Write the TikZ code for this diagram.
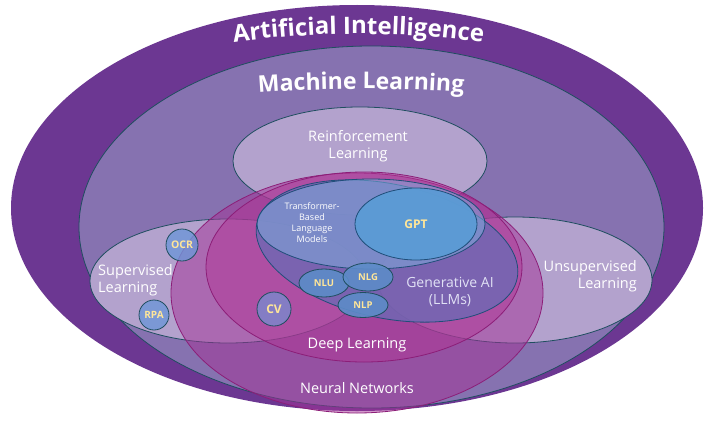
\documentclass[tikz,border=0pt]{standalone}
\usepackage{fontspec}
\setmainfont{Open Sans}
\usetikzlibrary{decorations.text}
\definecolor{aiC}{RGB}{108,55,146}
\definecolor{mlC}{RGB}{134,114,176}
\definecolor{lightC}{RGB}{179,162,205}
\definecolor{lineC}{RGB}{31,78,95}
\definecolor{nnC}{RGB}{165,50,150}
\definecolor{nnLine}{RGB}{140,30,120}
\definecolor{dlC}{RGB}{178,55,150}
\definecolor{genC}{RGB}{110,105,180}
\definecolor{genLine}{RGB}{31,78,121}
\definecolor{tfC}{RGB}{126,180,225}
\definecolor{gptC}{RGB}{91,155,213}
\definecolor{smallC}{RGB}{93,140,200}
\definecolor{circC}{RGB}{110,150,215}
\definecolor{yel}{RGB}{255,230,153}
\definecolor{genText}{RGB}{225,225,245}
\begin{document}
\begin{tikzpicture}[x=1pt,y=-1pt,
  region/.style={fill=#1, draw=lineC, line width=0.8pt},
  magregion/.style={fill=#1, draw=nnLine, line width=0.8pt},
  lbl/.style={text=white, font=\fontsize{14.5}{17}\selectfont, align=center, inner sep=0pt},
  tag/.style={text=yel, font=\bfseries\fontsize{#1}{#1}\selectfont, inner sep=0pt}]
\useasboundingbox (0,0) rectangle (711,428);
\fill[white] (0,0) rectangle (711,428);
% Artificial Intelligence
\fill[aiC] (357,208) ellipse [x radius=346, y radius=203];
% Machine Learning
\draw[region=mlC] (371.5,227) ellipse [x radius=292.5, y radius=181];
% Reinforcement / Supervised / Unsupervised
\draw[region=lightC] (360,161) ellipse [x radius=127, y radius=54];
\draw[region=lightC] (228,281) ellipse [x radius=138, y radius=62];
\draw[region=lightC] (515,280) ellipse [x radius=137, y radius=63];
% Neural networks
\draw[magregion=nnC, fill opacity=0.5] (357,293) ellipse [x radius=186, y radius=120];
% Deep learning
\draw[magregion=dlC, fill opacity=0.5] (364,267) ellipse [x radius=158, y radius=95];
% Generative AI
\draw[fill=genC, fill opacity=0.8, draw=genLine, line width=0.8pt, rotate around={-12:(387,251)}] (387,251) ellipse [x radius=133, y radius=67];
% Transformer
\draw[fill=tfC, fill opacity=0.5, draw=genLine, line width=0.8pt] (371,224) ellipse [x radius=114, y radius=45];
% GPT
\draw[fill=gptC, fill opacity=0.95, draw=genLine, line width=0.8pt] (416,224) ellipse [x radius=61, y radius=36];
% small items
\draw[fill=smallC, fill opacity=0.9, draw=lineC, line width=0.8pt] (324,283) ellipse [x radius=25, y radius=14];
\draw[fill=smallC, fill opacity=0.9, draw=lineC, line width=0.8pt] (368,277) ellipse [x radius=25, y radius=14];
\draw[fill=smallC, fill opacity=0.9, draw=lineC, line width=0.8pt] (363,305) ellipse [x radius=25, y radius=12.5];
\draw[fill=circC, fill opacity=0.65, draw=lineC, line width=0.8pt] (274,309) circle [radius=17];
\draw[fill=circC, fill opacity=0.8, draw=lineC, line width=0.8pt] (182,245) circle [radius=16];
\draw[fill=circC, fill opacity=0.8, draw=lineC, line width=0.8pt] (154,315) circle [radius=15];
% curved titles
\path[decorate, decoration={text along path, text align=center,
  text={|\color{white}\bfseries\fontsize{24}{24}\selectfont|Artificial Intelligence}}]
  (358.5,984) ++(258:950) arc[start angle=258, end angle=282, radius=950];
\path[decorate, decoration={text along path, text align=center,
  text={|\color{white}\bfseries\fontsize{23}{23}\selectfont|Machine Learning}}]
  (361,1489) ++(260:1400) arc[start angle=260, end angle=280, radius=1400];
% labels
\node[lbl] (rl) at (358,146) {Reinforcement\\Learning};
\node[lbl, align=left, anchor=west] (sl) at (98,280) {Supervised\\Learning};
\node[lbl, align=right, anchor=east] (ul) at (637,276) {Unsupervised\\Learning};
\node[lbl, text=genText, font=\fontsize{14}{17}\selectfont] (gen) at (450,292) {Generative AI\\(LLMs)};
\node[lbl] (dl) at (357,345) {Deep Learning};
\node[lbl] (nn) at (357,388) {Neural Networks};
\node[lbl, font=\fontsize{9}{11}\selectfont] (tf) at (312,222.5) {Transformer-\\Based\\Language\\Models};
\node[tag=12] (gpt) at (416,224) {GPT};
\node[tag=9.5] (nlu) at (324,283) {NLU};
\node[tag=9.5] (nlg) at (368,277) {NLG};
\node[tag=9.5] (nlp) at (363,305) {NLP};
\node[tag=12] (cv) at (274,309) {CV};
\node[tag=10.5] (ocr) at (182,245) {OCR};
\node[tag=10] (rpa) at (154,315) {RPA};
\end{tikzpicture}
\end{document}
